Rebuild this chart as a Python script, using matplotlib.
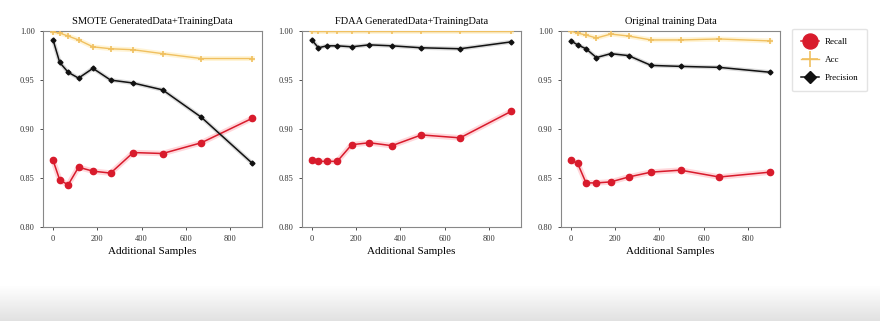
import numpy as np
import matplotlib
matplotlib.use("Agg")
import matplotlib.pyplot as plt

plt.rcParams['font.family'] = ['Liberation Serif', 'DejaVu Serif']

titles = ["SMOTE GeneratedData+TrainingData", "FDAA GeneratedData+TrainingData", "Original training Data"]
x_samples = [0, 30, 68, 115, 180, 260, 362, 495, 670, 900]

smote_recall = [0.868, 0.848, 0.843, 0.861, 0.857, 0.855, 0.876, 0.875, 0.886, 0.911]
smote_acc = [0.999, 0.998, 0.995, 0.991, 0.984, 0.982, 0.981, 0.977, 0.972, 0.972]
smote_prec = [0.991, 0.968, 0.958, 0.952, 0.962, 0.950, 0.947, 0.940, 0.912, 0.865]

fdaa_recall = [0.868, 0.867, 0.867, 0.867, 0.884, 0.886, 0.883, 0.894, 0.891, 0.918]
fdaa_acc = [1.0, 1.0, 1.0, 1.0, 1.0, 1.0, 1.0, 1.0, 1.0, 1.0]
fdaa_prec = [0.991, 0.983, 0.985, 0.985, 0.984, 0.986, 0.985, 0.983, 0.982, 0.989]

orig_recall = [0.868, 0.865, 0.845, 0.845, 0.846, 0.851, 0.856, 0.858, 0.851, 0.856]
orig_acc = [1.0, 0.998, 0.996, 0.993, 0.997, 0.995, 0.991, 0.991, 0.992, 0.990]
orig_prec = [0.990, 0.986, 0.982, 0.973, 0.977, 0.975, 0.965, 0.964, 0.963, 0.958]

series = [
    (smote_recall, smote_acc, smote_prec),
    (fdaa_recall, fdaa_acc, fdaa_prec),
    (orig_recall, orig_acc, orig_prec),
]
labels = ["Recall", "Acc", "Precision"]
yticks = [0.80, 0.85, 0.90, 0.95, 1.00]
xticks = [0, 200, 400, 600, 800]

fig = plt.figure(figsize=(8.8, 3.21), dpi=100)

# light grey gradient band at the bottom
bg = fig.add_axes([0, 0, 1, 0.11], zorder=-5)
g = np.linspace(0.885, 1.0, 64).reshape(-1, 1)
rgb = np.dstack([g, g, g]) * np.ones((1, 10, 1))
bg.imshow(rgb, aspect='auto', extent=[0, 1, 0, 1], origin='lower')
bg.axis('off')

lefts = [0.049, 0.343, 0.6375]
handles = None
for i, (left, (rec, acc, prec)) in enumerate(zip(lefts, series)):
    ax = fig.add_axes([left, 0.293, 0.249, 0.61])
    ax.plot(x_samples, rec, color='#ff6070', lw=4, alpha=0.25, zorder=2)
    h1, = ax.plot(x_samples, rec, color='#d81b2c', lw=1.1, marker='o', ms=4.5, zorder=3,
                  label=labels[0])
    ax.plot(x_samples, acc, color='#ffe08a', lw=3.5, alpha=0.35, zorder=2)
    h2, = ax.plot(x_samples, acc, color='#f0c060', lw=1.0, marker='+', ms=5, mew=1.2,
                  zorder=3, label=labels[1])
    ax.plot(x_samples, prec, color='#707070', lw=3, alpha=0.25, zorder=2)
    h3, = ax.plot(x_samples, prec, color='#111111', lw=1.1, marker='D', ms=2.5, zorder=4,
                  label=labels[2])
    handles = [h1, h2, h3]
    ax.set_xlim(-45, 945)
    ax.set_ylim(0.80, 1.00)
    ax.set_yticks(yticks)
    ax.set_yticklabels([f"{v:.2f}" for v in yticks])
    ax.set_xticks(xticks)
    ax.tick_params(labelsize=6, length=2.5, width=0.6, colors='#333333')
    for s in ax.spines.values():
        s.set_color('#888888')
        s.set_linewidth(0.8)
    ax.set_title(titles[i], fontsize=7.5, pad=5)
    ax.set_xlabel("Additional Samples", fontsize=8, labelpad=3)

fig.legend(handles, labels, loc='upper left', bbox_to_anchor=(0.895, 0.925),
           fontsize=6.5, markerscale=2.4, frameon=True, edgecolor='#dddddd',
           handlelength=2.0, borderpad=1.0, labelspacing=1.1, handletextpad=0.6)

fig.savefig("out.png", dpi=100)
